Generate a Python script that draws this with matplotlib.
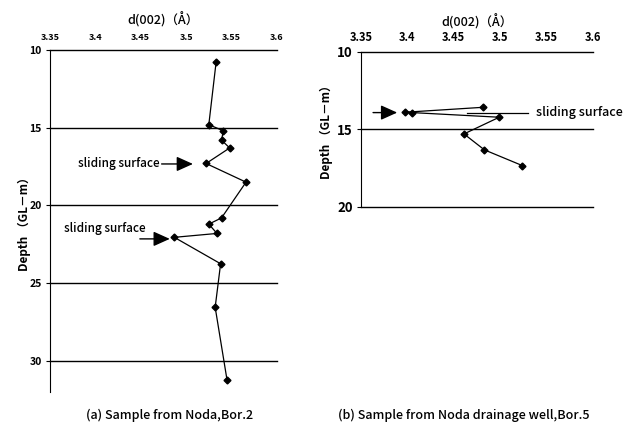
import matplotlib
matplotlib.use('Agg')
import matplotlib.pyplot as plt

plt.rcParams['font.family'] = ['Noto Sans CJK JP', 'DejaVu Sans']

# (a) Noda, Bor.2
d_a = [3.533, 3.525, 3.541, 3.539, 3.548, 3.522, 3.566, 3.539, 3.525, 3.534, 3.487, 3.538, 3.532, 3.545]
depth_a = [10.8, 14.8, 15.2, 15.8, 16.3, 17.3, 18.5, 20.8, 21.2, 21.8, 22.05, 23.75, 26.55, 31.2]

# (b) Noda drainage well, Bor.5
d_b = [3.481, 3.397, 3.405, 3.499, 3.461, 3.483, 3.524]
depth_b = [13.58, 13.9, 13.92, 14.22, 15.3, 16.33, 17.35]

xticks = [3.35, 3.4, 3.45, 3.5, 3.55, 3.6]
xticklabels = ['3.35', '3.4', '3.45', '3.5', '3.55', '3.6']

fig = plt.figure(figsize=(6.32, 4.26), dpi=100)
ax1 = fig.add_axes([0.0791, 0.0798, 0.359, 0.8028])
ax2 = fig.add_axes([0.5712, 0.515, 0.367, 0.363])


def style(ax, ylim, yticks, fs_x, fs_y, lpad):
    ax.set_xlim(3.35, 3.6)
    ax.set_ylim(ylim)
    ax.xaxis.tick_top()
    ax.set_xticks(xticks)
    ax.set_xticklabels(xticklabels)
    ax.set_yticks(yticks)
    ax.tick_params(axis='x', length=0, labelsize=fs_x, pad=6)
    ax.tick_params(axis='y', length=3, width=0.8, labelsize=fs_y, pad=3)
    for s in ['right', 'bottom']:
        ax.spines[s].set_visible(False)
    ax.spines['top'].set_linewidth(1.0)
    ax.spines['left'].set_linewidth(0.8)
    for lab in ax.get_xticklabels() + ax.get_yticklabels():
        lab.set_fontweight('bold')
    for y in yticks[1:]:
        ax.axhline(y, color='black', lw=1.0, zorder=1, clip_on=False)
    ax.set_ylabel('Depth （GL－m）', fontsize=8.5, fontweight='bold', labelpad=lpad)
    ax.set_title('d(002)（Å）', fontsize=9, fontweight='medium', pad=18)


style(ax1, (32, 10), [10, 15, 20, 25, 30], 6.5, 7.5, -1)
style(ax2, (20, 10), [10, 15, 20], 8, 9.5, 3)

ax1.plot(d_a, depth_a, color='black', lw=0.9, marker='D', ms=3.5, zorder=3)
ax2.plot(d_b, depth_b, color='black', lw=0.9, marker='D', ms=3.5, zorder=3)

arr = dict(arrowstyle='-|>,head_length=1.0,head_width=0.45', color='black', lw=1.0,
           shrinkA=0, shrinkB=0)

ax1.text(3.381, 17.33, 'sliding surface', fontsize=8.5, fontweight='medium', va='center', ha='left')
ax1.annotate('', xy=(3.5075, 17.33), xytext=(3.473, 17.33), arrowprops=arr)
ax1.text(3.365, 21.45, 'sliding surface', fontsize=8.5, fontweight='medium', va='center', ha='left')
ax1.annotate('', xy=(3.482, 22.15), xytext=(3.449, 22.15), arrowprops=arr)

ax2.annotate('', xy=(3.389, 13.92), xytext=(3.363, 13.92), arrowprops=arr)
ax2.plot([3.464, 3.53], [13.92, 13.92], color='black', lw=0.9)
ax2.text(3.5386, 13.92, 'sliding surface', fontsize=9, fontweight='medium', va='center', ha='left', clip_on=False)

fig.text(0.268, 0.024, '(a) Sample from Noda,Bor.2', fontsize=9, fontweight='medium', ha='center', va='center')
fig.text(0.734, 0.024, '(b) Sample from Noda drainage well,Bor.5', fontsize=9, fontweight='medium', ha='center', va='center')

fig.savefig('out.png', dpi=100, facecolor='white')
